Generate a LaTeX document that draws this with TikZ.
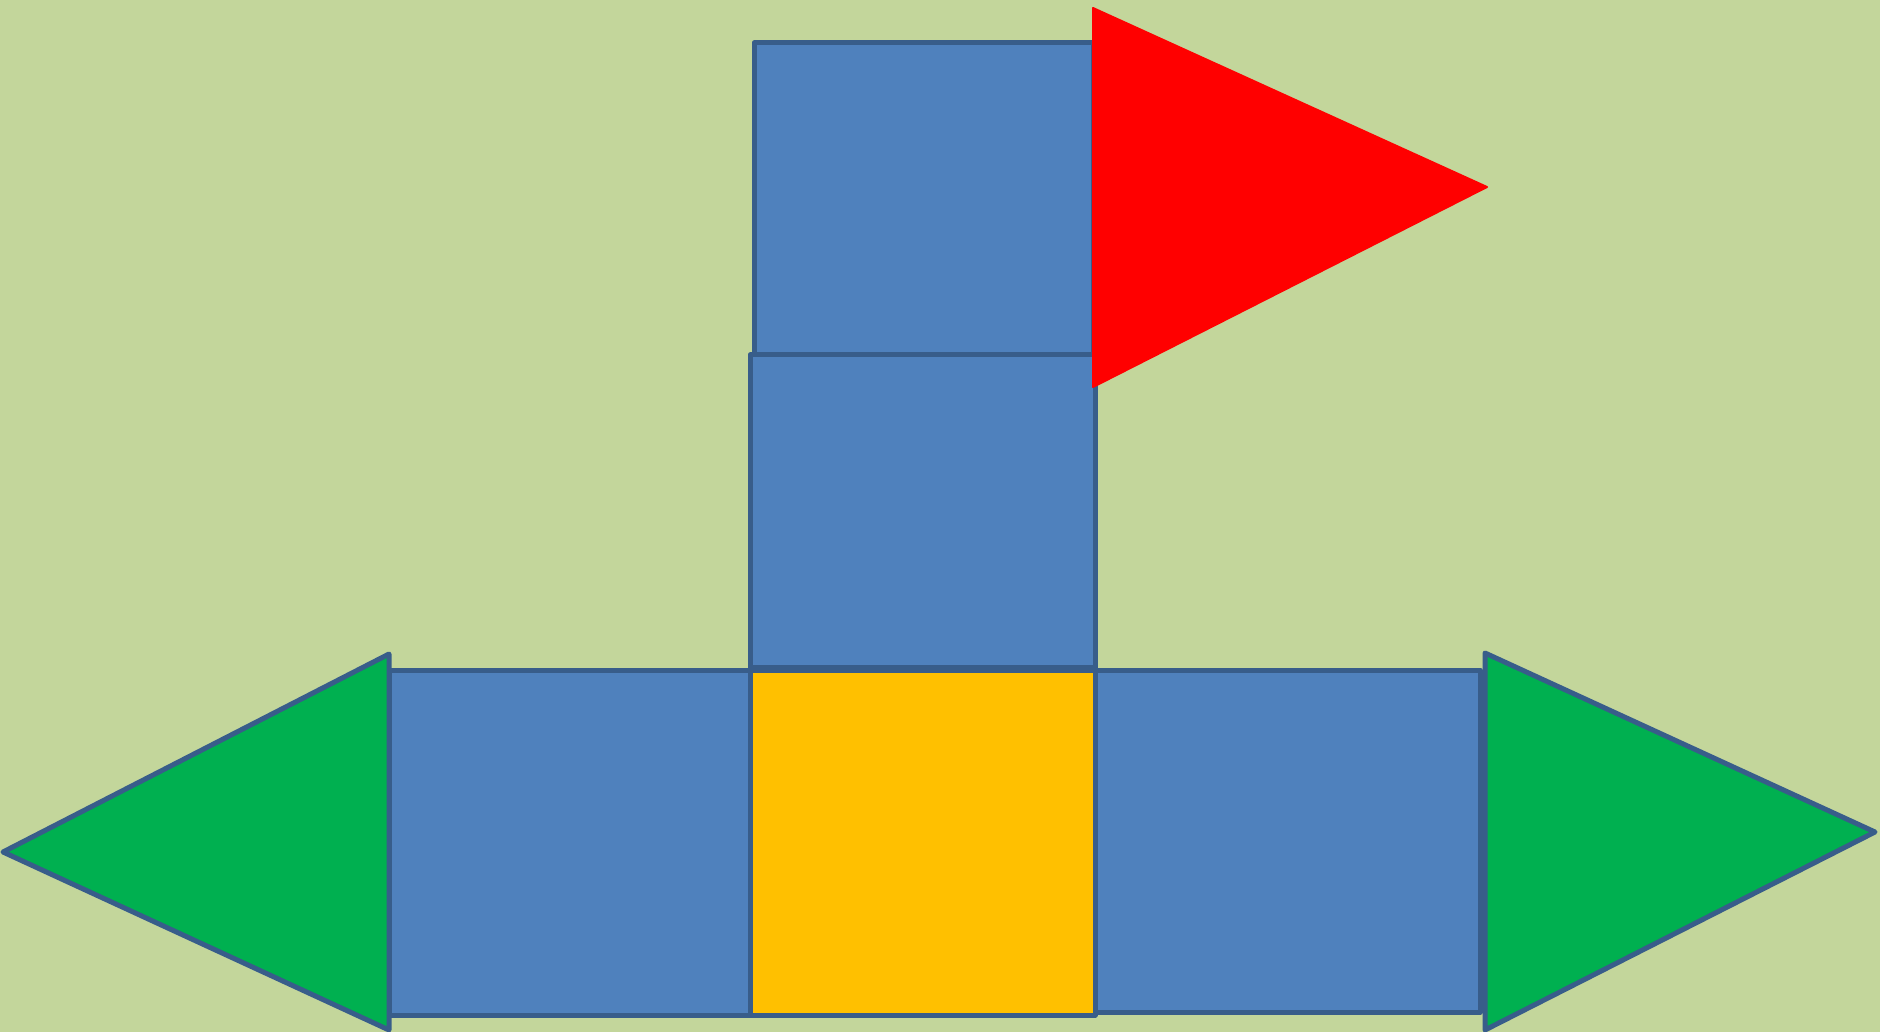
\documentclass[tikz,border=0pt]{standalone}
\definecolor{bgolive}{HTML}{C3D69B}
\definecolor{boxblue}{HTML}{4F81BD}
\definecolor{edgeblue}{HTML}{385D8A}
\definecolor{boxyellow}{HTML}{FFC000}
\definecolor{trigreen}{HTML}{00B050}
\definecolor{trired}{HTML}{FF0000}
\tikzset{
  bluebox/.style={fill=boxblue, draw=edgeblue, line width=5pt, line join=round},
  yellowbox/.style={fill=boxyellow, draw=edgeblue, line width=5pt, line join=round},
  greentri/.style={fill=trigreen, draw=edgeblue, line width=5pt, line join=round},
  redtri/.style={fill=trired, draw=trired, line width=2pt, line join=round}
}
\begin{document}
\begin{tikzpicture}[x=1pt,y=-1pt]
  \fill[bgolive] (0,0) rectangle (1880,1032);
  \useasboundingbox (0,0) rectangle (1880,1032);
  % top column
  \draw[bluebox] (754,43) rectangle (1093,355);
  \draw[bluebox] (750,355) rectangle (1095,667);
  % bottom row
  \draw[bluebox] (389,670) rectangle (750,1015);
  \draw[bluebox] (1095,670) rectangle (1480,1012);
  \draw[yellowbox] (750,670) rectangle (1095,1015);
  % triangles
  \draw[greentri] (389,654) -- (389,1030) -- (3,852) -- cycle;
  \draw[greentri] (1485,653) -- (1485,1030) -- (1875,832) -- cycle;
  \draw[redtri] (1093,8) -- (1093,387) -- (1487,187) -- cycle;
\end{tikzpicture}
\end{document}
